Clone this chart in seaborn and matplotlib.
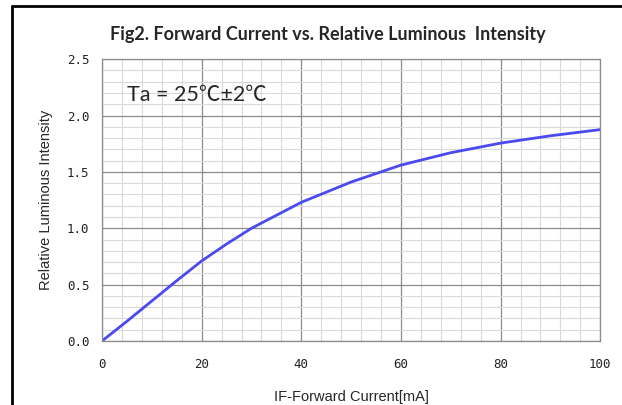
import matplotlib
matplotlib.use("Agg")
import matplotlib.pyplot as plt
from matplotlib.lines import Line2D
from matplotlib.ticker import MultipleLocator
import seaborn as sns
import pandas as pd

# data
current_ma = [0, 5, 10, 15, 20, 25, 30, 40, 50, 60, 70, 80, 90, 100]
rel_intensity = [0.0, 0.175, 0.355, 0.535, 0.71, 0.86, 1.0, 1.23, 1.41, 1.56, 1.67, 1.755, 1.82, 1.875]

df = pd.DataFrame({"IF": current_ma, "RLI": rel_intensity})

sns.set_style("white")
plt.rcParams['font.family'] = ['Liberation Sans', 'DejaVu Sans']

fig = plt.figure(figsize=(6.22, 4.05), dpi=100)
ax = fig.add_axes([0.164, 0.158, 0.801, 0.696])

# grid: minor light, major darker
ax.xaxis.set_major_locator(MultipleLocator(20))
ax.xaxis.set_minor_locator(MultipleLocator(4))
ax.yaxis.set_major_locator(MultipleLocator(0.5))
ax.yaxis.set_minor_locator(MultipleLocator(0.1))
ax.grid(which='minor', color='#d9d9d9', linewidth=0.8)
ax.grid(which='major', color='#8c8c8c', linewidth=0.9)
ax.set_axisbelow(True)

sns.lineplot(data=df, x="IF", y="RLI", ax=ax, color='#4a4af0', linewidth=2)

ax.set_xlim(0, 100)
ax.set_ylim(0, 2.5)
for s in ['top', 'right', 'bottom', 'left']:
    ax.spines[s].set_color('#8c8c8c')
    ax.spines[s].set_linewidth(0.9)

ax.tick_params(axis='y', which='major', length=5, color='#8c8c8c', labelsize=9, pad=4)
ax.tick_params(axis='x', which='major', length=0, labelsize=9, pad=12)
ax.tick_params(which='minor', length=0)
ax.set_yticks([0, 0.5, 1.0, 1.5, 2.0, 2.5])
ax.set_yticklabels(['0.0', '0.5', '1.0', '1.5', '2.0', '2.5'], family='DejaVu Sans Mono', color='#222222')
ax.set_xticks([0, 20, 40, 60, 80, 100])
ax.set_xticklabels(['0', '20', '40', '60', '80', '100'], family='DejaVu Sans Mono', color='#222222')

ax.set_xlabel("IF-Forward Current[mA]", fontsize=10.5, labelpad=14)
ax.set_ylabel("Relative Luminous Intensity", fontsize=10.5, labelpad=10)

ax.text(5, 2.13, "Ta = 25℃±2℃", fontsize=15.5,
        family=['Lato', 'Noto Sans CJK SC', 'DejaVu Sans'])

fig.text(0.527, 0.915, "Fig2. Forward Current vs. Relative Luminous  Intensity",
         ha='center', va='center', fontsize=13, fontweight='bold',
         family=['Lato', 'DejaVu Sans'])

# outer frame of the figure box
fig.add_artist(Line2D([0.019, 0.019], [0.0, 0.985], transform=fig.transFigure, color='black', linewidth=2))
fig.add_artist(Line2D([0.019, 1.0], [0.985, 0.985], transform=fig.transFigure, color='black', linewidth=2))

fig.savefig("out.png", dpi=100)
